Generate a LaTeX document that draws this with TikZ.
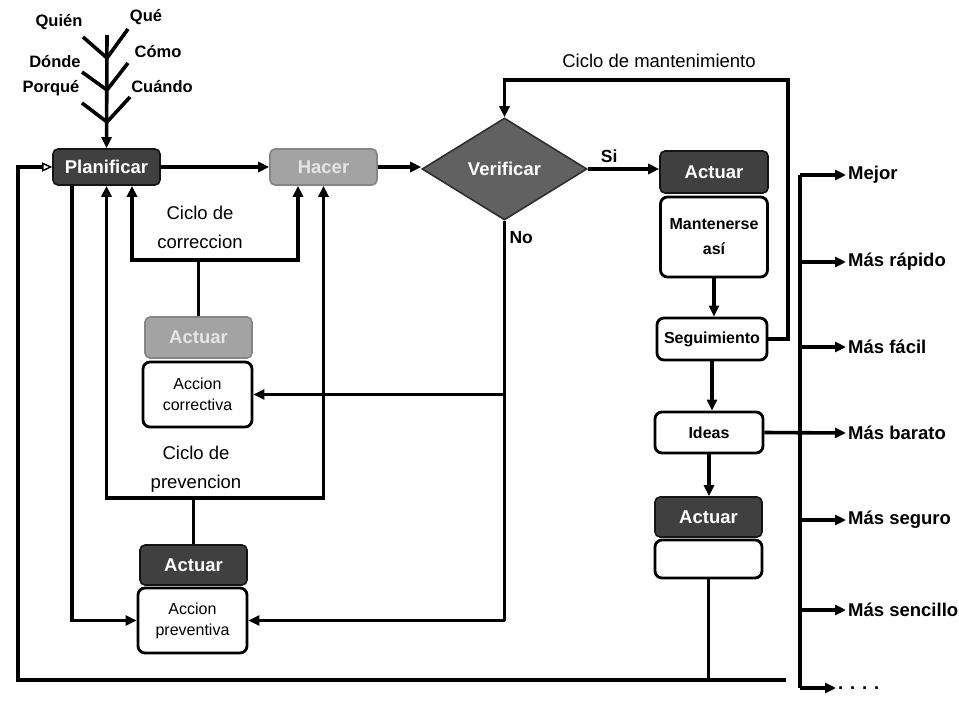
\documentclass[tikz,border=0pt]{standalone}
\usepackage{fontspec}
\setmainfont{Liberation Sans}
\usetikzlibrary{arrows.meta,shapes.geometric}
\newcommand\pxsize[2]{\fontsize{#1}{#2}\selectfont}

\begin{document}
\begin{tikzpicture}[x=1pt,y=-1pt,
  ln/.style={line width=3.6pt},
  arr/.style={ln,-{Triangle[length=11pt,width=10pt]}},
  openarr/.style={ln,-{Triangle[open,length=10pt,width=9pt,line width=1.4pt]}},
  hdr/.style={rounded corners=5pt,minimum width=107pt,inner sep=0pt,text=white,
    font=\pxsize{18.5}{20}\bfseries},
  darkhdr/.style={hdr,fill=black!75,draw=black!92,line width=1.6pt},
  lighthdr/.style={hdr,fill=black!36,draw=black!48,line width=1.6pt,text=white!90!black},
  wbox/.style={draw,rounded corners=7pt,line width=2.8pt,fill=white,align=center,
    inner sep=0pt,minimum width=107pt},
  tree/.style={font=\pxsize{16.5}{18}\bfseries},
  outc/.style={anchor=west,inner sep=2pt,font=\pxsize{18.5}{20}\bfseries},
  cyc/.style={align=center,font=\pxsize{18.5}{29}}
]
\useasboundingbox (0,0) rectangle (959,704);

% ---- main row -------------------------------------------------------
\node[darkhdr,minimum height=36pt] (plan) at (106.5,167) {Planificar};
\node[lighthdr,minimum height=36pt] (hacer) at (323.5,167) {Hacer};
\node[diamond,fill=black!62,draw=black!82,line width=1.6pt,inner sep=0pt,
      minimum width=165pt,minimum height=102pt,text=white,
      font=\pxsize{18.5}{20}\bfseries] (ver) at (504.5,169) {Verificar};

% ---- maintenance column ---------------------------------------------
\node[darkhdr,minimum height=42pt,minimum width=108pt] (act1) at (714,172) {Actuar};
\node[wbox,minimum height=80pt,font=\pxsize{16}{25}\bfseries] (mant) at (714,237) {Mantenerse\\así};
\node[wbox,minimum height=42pt,minimum width=110pt,font=\pxsize{16}{16}\bfseries] (seg) at (712,339) {Seguimiento};
\node[wbox,minimum height=41pt,minimum width=108pt,font=\pxsize{16}{16}\bfseries] (ideas) at (709,432.5) {Ideas};
\node[darkhdr,minimum height=40pt] (act2) at (708.5,517) {Actuar};
\node[wbox,minimum height=38pt] (empty) at (708.5,559) {};

% ---- correction and prevention boxes --------------------------------
\node[lighthdr,minimum height=41pt] (cact) at (198.5,337.5) {Actuar};
\node[wbox,minimum height=65pt,minimum width=109pt,font=\pxsize{16}{21}] (corr) at (197.5,394.5) {Accion\\correctiva};
\node[darkhdr,minimum height=40pt] (pact) at (193.5,565) {Actuar};
\node[wbox,minimum height=65pt,minimum width=109pt,font=\pxsize{16}{21}] (prev) at (192.5,620.5) {Accion\\preventiva};

% ---- question tree above Planificar ---------------------------------
\coordinate (ttop) at (107,35);
\coordinate (k1) at (107,58);
\coordinate (k2) at (107,90);
\coordinate (k3) at (107,122);
\coordinate (l1) at (83,37);  \coordinate (r1) at (128,29);
\coordinate (l2) at (82,72);  \coordinate (r2) at (128,63);
\coordinate (l3) at (82,103); \coordinate (r3) at (130,97);
\draw[ln] (l1) -- (k1) -- (r1);
\draw[ln] (l2) -- (k2) -- (r2);
\draw[ln] (l3) -- (k3) -- (r3);
\draw[arr] (ttop) -- (plan.north);
\node[tree] (quien) at (59,22) {Quién};
\node[tree] (que) at (146,17) {Qué};
\node[tree] (donde) at (55,62) {Dónde};
\node[tree] (porque) at (51,88) {Porqué};
\node[tree] (como) at (158,52) {Cómo};
\node[tree] (cuando) at (162,87) {Cuándo};

% ---- main flow --------------------------------------------------------
\draw[arr] (plan.east) -- (hacer.west);
\draw[arr] (hacer.east) -- (hacer.east -| ver.west);
\draw[arr] (ver.east) -- (ver.east -| act1.west)
  node[pos=0.3,above=1pt,font=\pxsize{17.5}{18}\bfseries] (si) {Si};

% ---- maintenance cycle ------------------------------------------------
\draw[arr] (mant.south) -- (mant.south |- seg.north);
\draw[arr] (seg.south) -- (seg.south |- ideas.north);
\draw[arr] (ideas.south) -- (ideas.south |- act2.north);
\coordinate (mr) at (788,339);
\coordinate (mt) at (788,80);
\draw[arr] (seg.east) -- (mr) -- (mt) -| (ver.north);
\node[font=\pxsize{18.5}{20}] (mlabel) at (659,61) {Ciclo de mantenimiento};

% ---- outcomes ---------------------------------------------------------
\coordinate (vtop) at (800,175);
\coordinate (vbot) at (800,688);
\draw[ln] (vtop) -- (vbot);
\node[outc] (o1) at (846,175) {Mejor};
\node[outc] (o2) at (846,262) {Más rápido};
\node[outc] (o3) at (846,347) {Más fácil};
\node[outc] (o4) at (846,433) {Más barato};
\node[outc] (o5) at (846,520) {Más seguro};
\node[outc] (o6) at (846,610) {Más sencillo};
\node[outc] (o7) at (836,688) {. . . .};
\draw[arr] (vtop) -- (o1.west);
\draw[arr] (vtop |- o2.west) -- (o2.west);
\draw[arr] (vtop |- o3.west) -- (o3.west);
\draw[arr] (ideas.east) -- (o4.west);
\draw[arr] (vtop |- o5.west) -- (o5.west);
\draw[arr] (vtop |- o6.west) -- (o6.west);
\draw[arr] (vbot) -- (o7.west);

% ---- improvement loop back to Planificar ------------------------------
\coordinate (bl) at (18,680);
\coordinate (br) at (708.5,680);
\draw[ln] (empty.south) -- (br);
\draw[openarr] (786,680) -- (bl) |- (plan.west);

% ---- "No" branch ------------------------------------------------------
\draw[ln] (ver.south) -- (ver.south |- prev.east);
\draw[arr] (ver.south |- prev.east) -- (prev.east);
\draw[arr] (ver.south |- corr.east) -- (corr.east);
\node[font=\pxsize{17.5}{18}\bfseries,anchor=west] (no) at (506,238) {No};

% ---- correction cycle -------------------------------------------------
\coordinate (cl) at (132,260);
\coordinate (cr) at (298,260);
\draw[ln] (cact.north) -- (cact.north |- cl);
\draw[arr] (cact.north |- cl) -- (cl) -- (cl |- plan.south);
\draw[arr] (cact.north |- cr) -- (cr) -- (cr |- hacer.south);
\node[cyc] (clabel) at (200,227) {Ciclo de\\correccion};

% ---- prevention cycle -------------------------------------------------
\coordinate (pl) at (106.5,498);
\coordinate (pr) at (323.5,498);
\draw[ln] (pact.north) -- (pact.north |- pl);
\draw[arr] (pact.north |- pl) -- (pl) -- (plan.south);
\draw[arr] (pact.north |- pr) -- (pr) -- (hacer.south);
\node[cyc] (plabel) at (196,469) {Ciclo de\\prevencion};

% ---- direct line from Planificar to preventive action -----------------
\coordinate (ps) at ([xshift=20pt]plan.south west);
\draw[arr] (ps) -- (ps |- prev.west) -- (prev.west);
\end{tikzpicture}
\end{document}
